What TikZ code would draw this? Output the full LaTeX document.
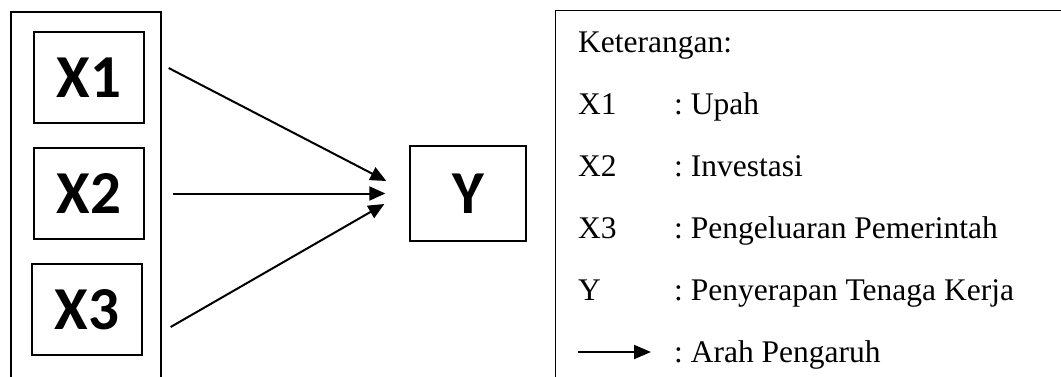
\documentclass[tikz,border=0pt]{standalone}
\usepackage{fontspec}
\setmainfont{Liberation Serif}
\newfontfamily\boxfont{Carlito}
\usetikzlibrary{arrows.meta,calc}
\frenchspacing
\tikzset{
  varbox/.style={draw, line width=1.3pt, minimum width=110pt, minimum height=91pt, inner sep=0pt,
    font=\boxfont\bfseries\fontsize{61}{61}\selectfont},
  frame/.style={draw, line width=1.8pt},
  conn/.style={line width=2pt, -{Triangle[length=16pt,width=14pt]}},
  legtext/.style={anchor=base west, inner sep=0pt, font=\fontsize{31.5}{36}\selectfont},
}
\begin{document}
\begin{tikzpicture}[x=1pt,y=-1pt]
\useasboundingbox (0,0) rectangle (1061,376);
\clip (0,0) rectangle (1061,376);
% left group frame
\node[frame, anchor=north west, minimum width=150pt, minimum height=400pt, inner sep=0pt] (grp) at (10,11) {};
\node[varbox] (X1) at (89,77.5) {X1};
\node[varbox] (X2) at (89,193.5) {X2};
\node[varbox] (X3) at (87,309.5) {X3};
\node[varbox, minimum width=116pt, minimum height=95pt] (Y) at (468,193.5) {Y};
% connector ends
\coordinate (s1) at ($(X1.east)+(24,-9.5)$);
\coordinate (s2) at ($(X2.east)+(28,0)$);
\coordinate (s3) at ($(X3.east)+(28,17.5)$);
\coordinate (e1) at ($(Y.west)+(-23,-12.5)$);
\coordinate (e2) at ($(Y.west)+(-24,0)$);
\coordinate (e3) at ($(Y.west)+(-25,10.5)$);
\draw[conn] (s1) -- (e1);
\draw[conn] (s2) -- (e2);
\draw[conn] (s3) -- (e3);
% legend frame
\node[frame, line width=1.4pt, anchor=north west, minimum width=600pt, minimum height=400pt, inner sep=0pt] (leg) at (555,10) {};
\node[legtext] (k) at (578,52) {Keterangan:};
\node[legtext] (l1) at (578,114) {X1};
\node[legtext] (d1) at (674,114) {: Upah};
\node[legtext] (l2) at (578,176) {X2};
\node[legtext] (d2) at (674,176) {: Investasi};
\node[legtext] (l3) at (578,238) {X3};
\node[legtext] (d3) at (674,238) {: Pengeluaran Pemerintah};
\node[legtext] (l4) at (578,300) {Y};
\node[legtext] (d4) at (674,300) {: Penyerapan Tenaga Kerja};
\node[legtext] (d5) at (674,362) {: Arah Pengaruh};
\coordinate (la) at (578,352);
\coordinate (lb) at (651,352);
\draw[line width=2pt, -{Triangle[length=17pt,width=14pt]}] (la) -- (lb);
\end{tikzpicture}
\end{document}
